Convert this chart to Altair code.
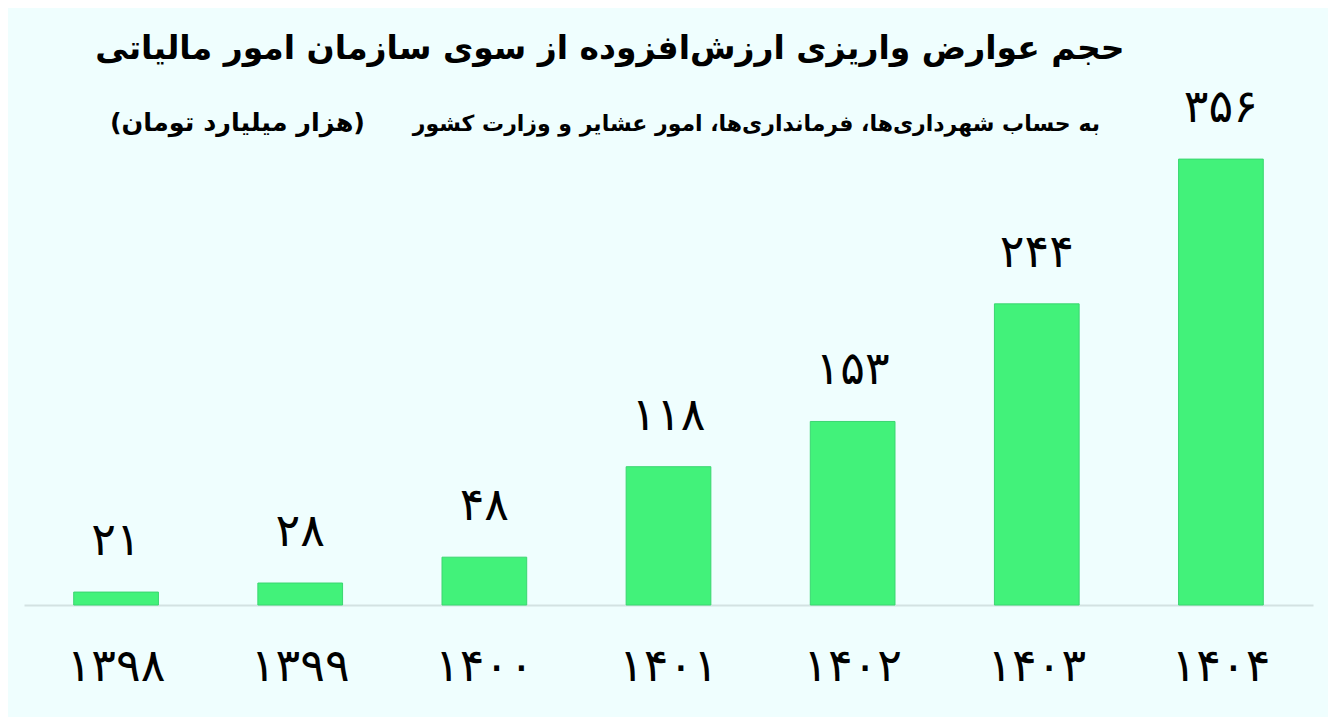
import altair as alt
import pandas as pd

years = ["۱۳۹۸", "۱۳۹۹", "۱۴۰۰", "۱۴۰۱", "۱۴۰۲", "۱۴۰۳", "۱۴۰۴"]
values = [21, 28, 48, 118, 153, 244, 356]
value_labels = ["۲۱", "۲۸", "۴۸", "۱۱۸", "۱۵۳", "۲۴۴", "۳۵۶"]

title_text = "حجم عوارض واریزی ارزش‌افزوده از سوی سازمان امور مالیاتی"
subtitle_right = "به حساب شهرداری‌ها، فرمانداری‌ها، امور عشایر و وزارت کشور"
subtitle_left = "(هزار میلیارد تومان)"

df = pd.DataFrame({"year": years, "value": values, "label": value_labels})

W, H = 1289, 464
Y_MIN, Y_MAX = 11, 370
FONT = "DejaVu Sans"
PAD_L, PAD_T = 16, 133
OX, OY = 8 + PAD_L, 8 + PAD_T

x = alt.X("year:N", sort=years, title=None,
          scale=alt.Scale(paddingInner=0.54, paddingOuter=0.27),
          axis=alt.Axis(labelAngle=0, labelFont=FONT, labelFontSize=46,
                        labelColor="#000000", labelPadding=39, ticks=False,
                        domainColor="#d3e2e2", domainWidth=2, grid=False))
y = alt.Y("value:Q", title=None,
          scale=alt.Scale(domain=[Y_MIN, Y_MAX], zero=False, nice=False),
          axis=None)

bars = alt.Chart(df).mark_bar(color="#42f27a", stroke="#3ad670", strokeWidth=1).encode(
    x=x, y=y, y2=alt.datum(Y_MIN)
)

labels = alt.Chart(df).mark_text(font=FONT, fontSize=46, color="#000000",
                                 baseline="alphabetic", dy=-37).encode(
    x=x, y=y, text="label:N"
)

t1 = alt.Chart(pd.DataFrame({"t": [title_text]})).mark_text(
    font=FONT, fontSize=33, fontWeight="bold", color="#000000",
    align="center", baseline="middle").encode(
    text="t:N", x=alt.value(610 - OX), y=alt.value(49 - OY))

t2 = alt.Chart(pd.DataFrame({"t": [subtitle_right]})).mark_text(
    font=FONT, fontSize=22, fontWeight="bold", color="#000000",
    align="right", baseline="middle").encode(
    text="t:N", x=alt.value(1100 - OX), y=alt.value(124 - OY))

t3 = alt.Chart(pd.DataFrame({"t": [subtitle_left]})).mark_text(
    font=FONT, fontSize=25.5, fontWeight="bold", color="#000000",
    align="right", baseline="middle").encode(
    text="t:N", x=alt.value(365 - OX), y=alt.value(123 - OY))

chart = alt.layer(bars, labels, t1, t2, t3).properties(
    width=W, height=H,
    autosize=alt.AutoSizeParams(type="none"),
    padding={"left": PAD_L, "top": PAD_T, "right": 15, "bottom": 112},
    background="#effefe",
).configure_view(stroke=None)

chart.save("out.html", embed_options={"renderer": "svg", "actions": False})
